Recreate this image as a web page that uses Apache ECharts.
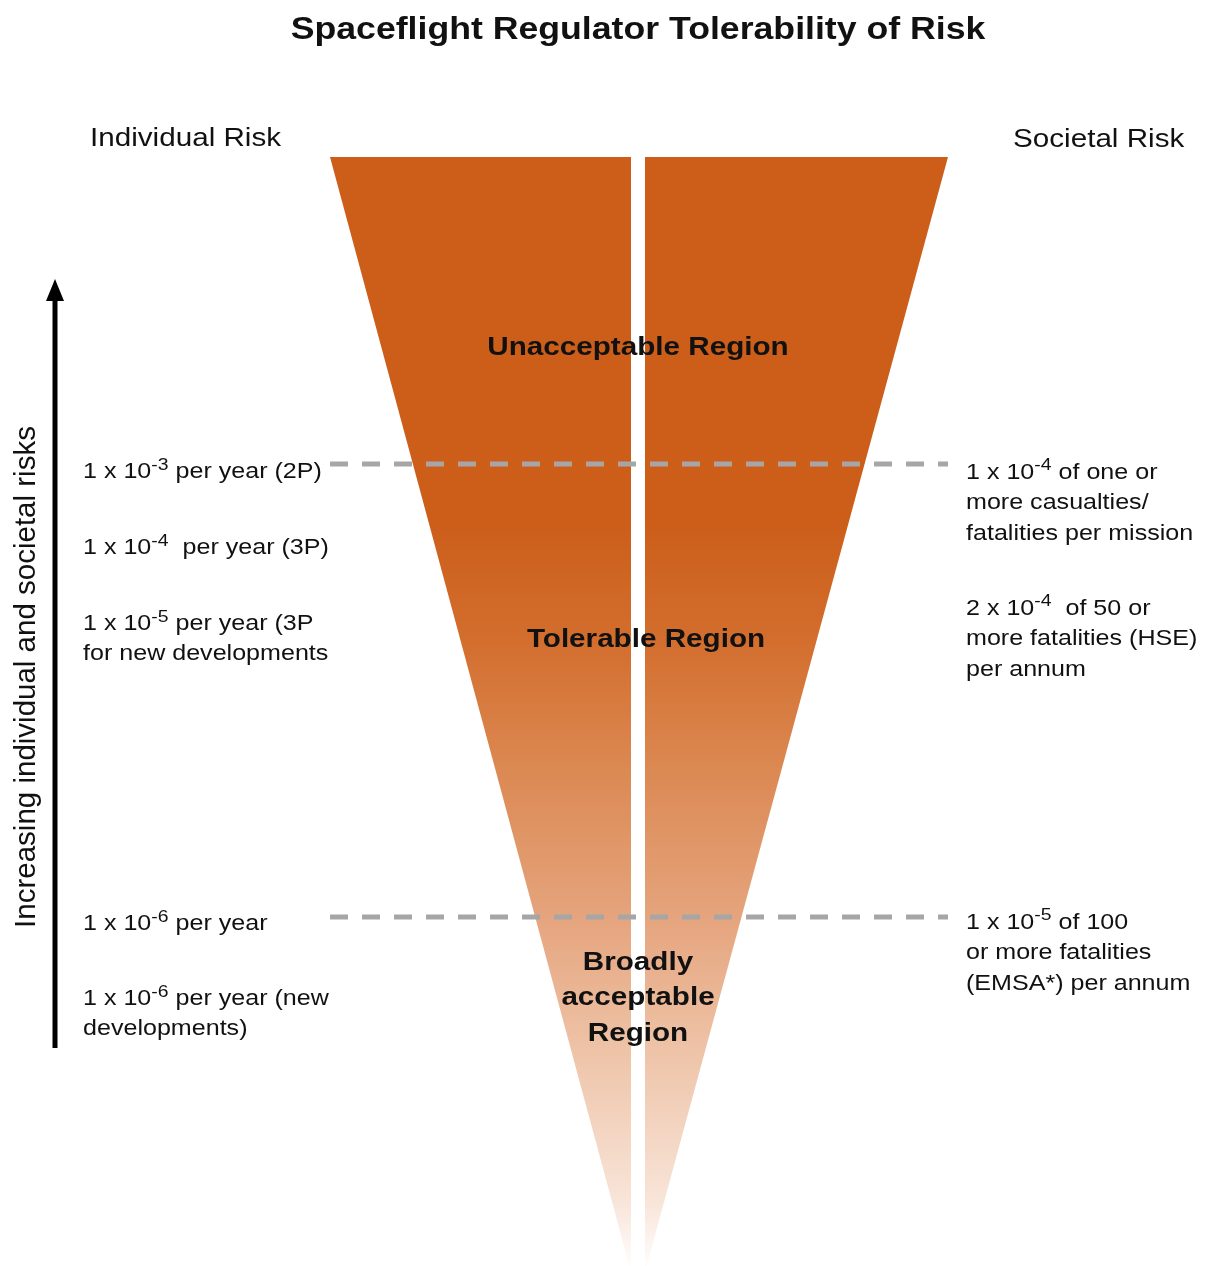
<!DOCTYPE html>
<html><head><meta charset="utf-8">
<script src="https://cdn.jsdelivr.net/npm/echarts@6/dist/echarts.min.js"></script>
<style>html,body{margin:0;padding:0;background:#fff}#c{width:1209px;height:1266px}</style>
</head><body><div id="c"></div>
<script>
// Diagram space: x 0..1209 (left→right), y 0..1266 (top→bottom)
const funnelLeftHalf  = [[330, 157], [631, 157], [631, 1272]];
const funnelRightHalf = [[645, 157], [948, 157], [645, 1272]];
const thresholdY = [464, 917];
const thresholdX = [330, 948];

const titleText = 'Spaceflight Regulator Tolerability of Risk';
const headerTexts = ['Individual Risk', 'Societal Risk'];
const headerX = [90, 1013];
const headerY = [139, 140];

const regionTexts = ['Unacceptable Region', 'Tolerable Region', 'Broadly\nacceptable\nRegion'];
const regionX = [638, 646, 638];
const regionY = [348, 640, 998];

const leftTexts = [
  '1 x 10{s|-3} per year (2P)',
  '1 x 10{s|-4}  per year (3P)',
  '1 x 10{s|-5} per year (3P\nfor new developments',
  '1 x 10{s|-6} per year',
  '1 x 10{s|-6} per year (new\ndevelopments)'
];
const leftY = [472, 548, 639, 924, 1014];
const rightTexts = [
  '1 x 10{s|-4} of one or\nmore casualties/\nfatalities per mission',
  '2 x 10{s|-4}  of 50 or\nmore fatalities (HSE)\nper annum',
  '1 x 10{s|-5} of 100\nor more fatalities\n(EMSA*) per annum'
];
const rightY = [503, 639, 953];
const leftX = 83, rightX = 966;

const axisText = 'Increasing individual and societal risks';
const arrowX = 55, arrowBottom = 1048, arrowTip = 279;

const FONT = '"Liberation Sans", Arial, Helvetica, sans-serif';
const SX = 1.14;
const INK = '#111111';

const gradStops = [
  {offset: 0, color: '#CC5E1A'},
  {offset: 0.33, color: '#CC5E1A'},
  {offset: 0.435, color: '#D36E2E'},
  {offset: 0.541, color: '#DB8750'},
  {offset: 0.682, color: '#E5A47D'},
  {offset: 0.80, color: '#EEC3A7'},
  {offset: 0.935, color: '#F8E4D8'},
  {offset: 1, color: '#FFFFFF'}
];

function textSeries(xs, ys, texts, o) {
  return {
    type: 'custom', silent: true, clip: false, z: 10,
    data: xs.map((x, i) => [x, ys[i], i]),
    renderItem: (params, api) => {
      const i = api.value(2);
      const p = api.coord([api.value(0), api.value(1)]);
      return {
        type: 'text', x: p[0], y: p[1],
        scaleX: o.scaleX == null ? SX : o.scaleX,
        rotation: o.rotation || 0,
        style: {
          text: texts[i], align: o.align, verticalAlign: 'middle',
          fontFamily: FONT, fontSize: o.size, fontWeight: o.weight || 'normal',
          fill: INK, lineHeight: o.lineHeight || o.size * 1.2,
          rich: o.rich
        }
      };
    }
  };
}

const supRich = {
  s: {fontFamily: FONT, fontSize: 17, fill: INK, lineHeight: 6, verticalAlign: 'top'}
};

const chart = echarts.init(document.getElementById('c'), null, {renderer: 'canvas'});
chart.setOption({
  animation: false,
  backgroundColor: '#ffffff',
  grid: {left: 0, right: 0, top: 0, bottom: 0},
  xAxis: {type: 'value', min: 0, max: 1209, show: false},
  yAxis: {type: 'value', min: 0, max: 1266, inverse: true, show: false},
  series: [
    { // funnel halves
      type: 'custom', silent: true, clip: false, z: 1,
      data: [0, 1].map(i => [i]),
      renderItem: (params, api) => {
        const half = api.value(0) === 0 ? funnelLeftHalf : funnelRightHalf;
        return {
          type: 'polygon',
          shape: {points: half.map(p => api.coord(p))},
          style: {fill: new echarts.graphic.LinearGradient(0, 0, 0, 1, gradStops)}
        };
      }
    },
    { // threshold dashed lines
      type: 'custom', silent: true, clip: false, z: 5,
      data: thresholdY.map(y => [y]),
      renderItem: (params, api) => {
        const a = api.coord([thresholdX[0], api.value(0)]);
        const b = api.coord([thresholdX[1], api.value(0)]);
        return {
          type: 'line',
          shape: {x1: a[0], y1: a[1], x2: b[0], y2: b[1]},
          style: {stroke: '#A6A6A6', lineWidth: 5, lineDash: [18, 14]}
        };
      }
    },
    { // arrow
      type: 'custom', silent: true, clip: false, z: 5,
      data: [[arrowX, arrowBottom, arrowTip]],
      renderItem: (params, api) => {
        const b = api.coord([api.value(0), api.value(1)]);
        const t = api.coord([api.value(0), api.value(2)]);
        return {
          type: 'group',
          children: [
            {type: 'line', shape: {x1: b[0], y1: b[1], x2: t[0], y2: t[1] + 18},
             style: {stroke: '#000', lineWidth: 5}},
            {type: 'polygon', shape: {points: [[t[0], t[1]], [t[0] - 9, t[1] + 22], [t[0] + 9, t[1] + 22]]},
             style: {fill: '#000'}}
          ]
        };
      }
    },
    textSeries([638], [30], [titleText], {align: 'center', size: 31, weight: 'bold', scaleX: 1.15}),
    textSeries(headerX, headerY, headerTexts, {align: 'left', size: 26}),
    textSeries(regionX, regionY, regionTexts, {align: 'center', size: 26, weight: 'bold', lineHeight: 35.5}),
    textSeries(leftTexts.map(() => leftX), leftY, leftTexts, {align: 'left', size: 22, lineHeight: 30.5, rich: supRich}),
    textSeries(rightTexts.map(() => rightX), rightY, rightTexts, {align: 'left', size: 22, lineHeight: 30.5, rich: supRich}),
    textSeries([27], [677], [axisText], {align: 'center', size: 29.5, scaleX: 1, rotation: Math.PI / 2})
  ]
});
</script>
</body></html>
